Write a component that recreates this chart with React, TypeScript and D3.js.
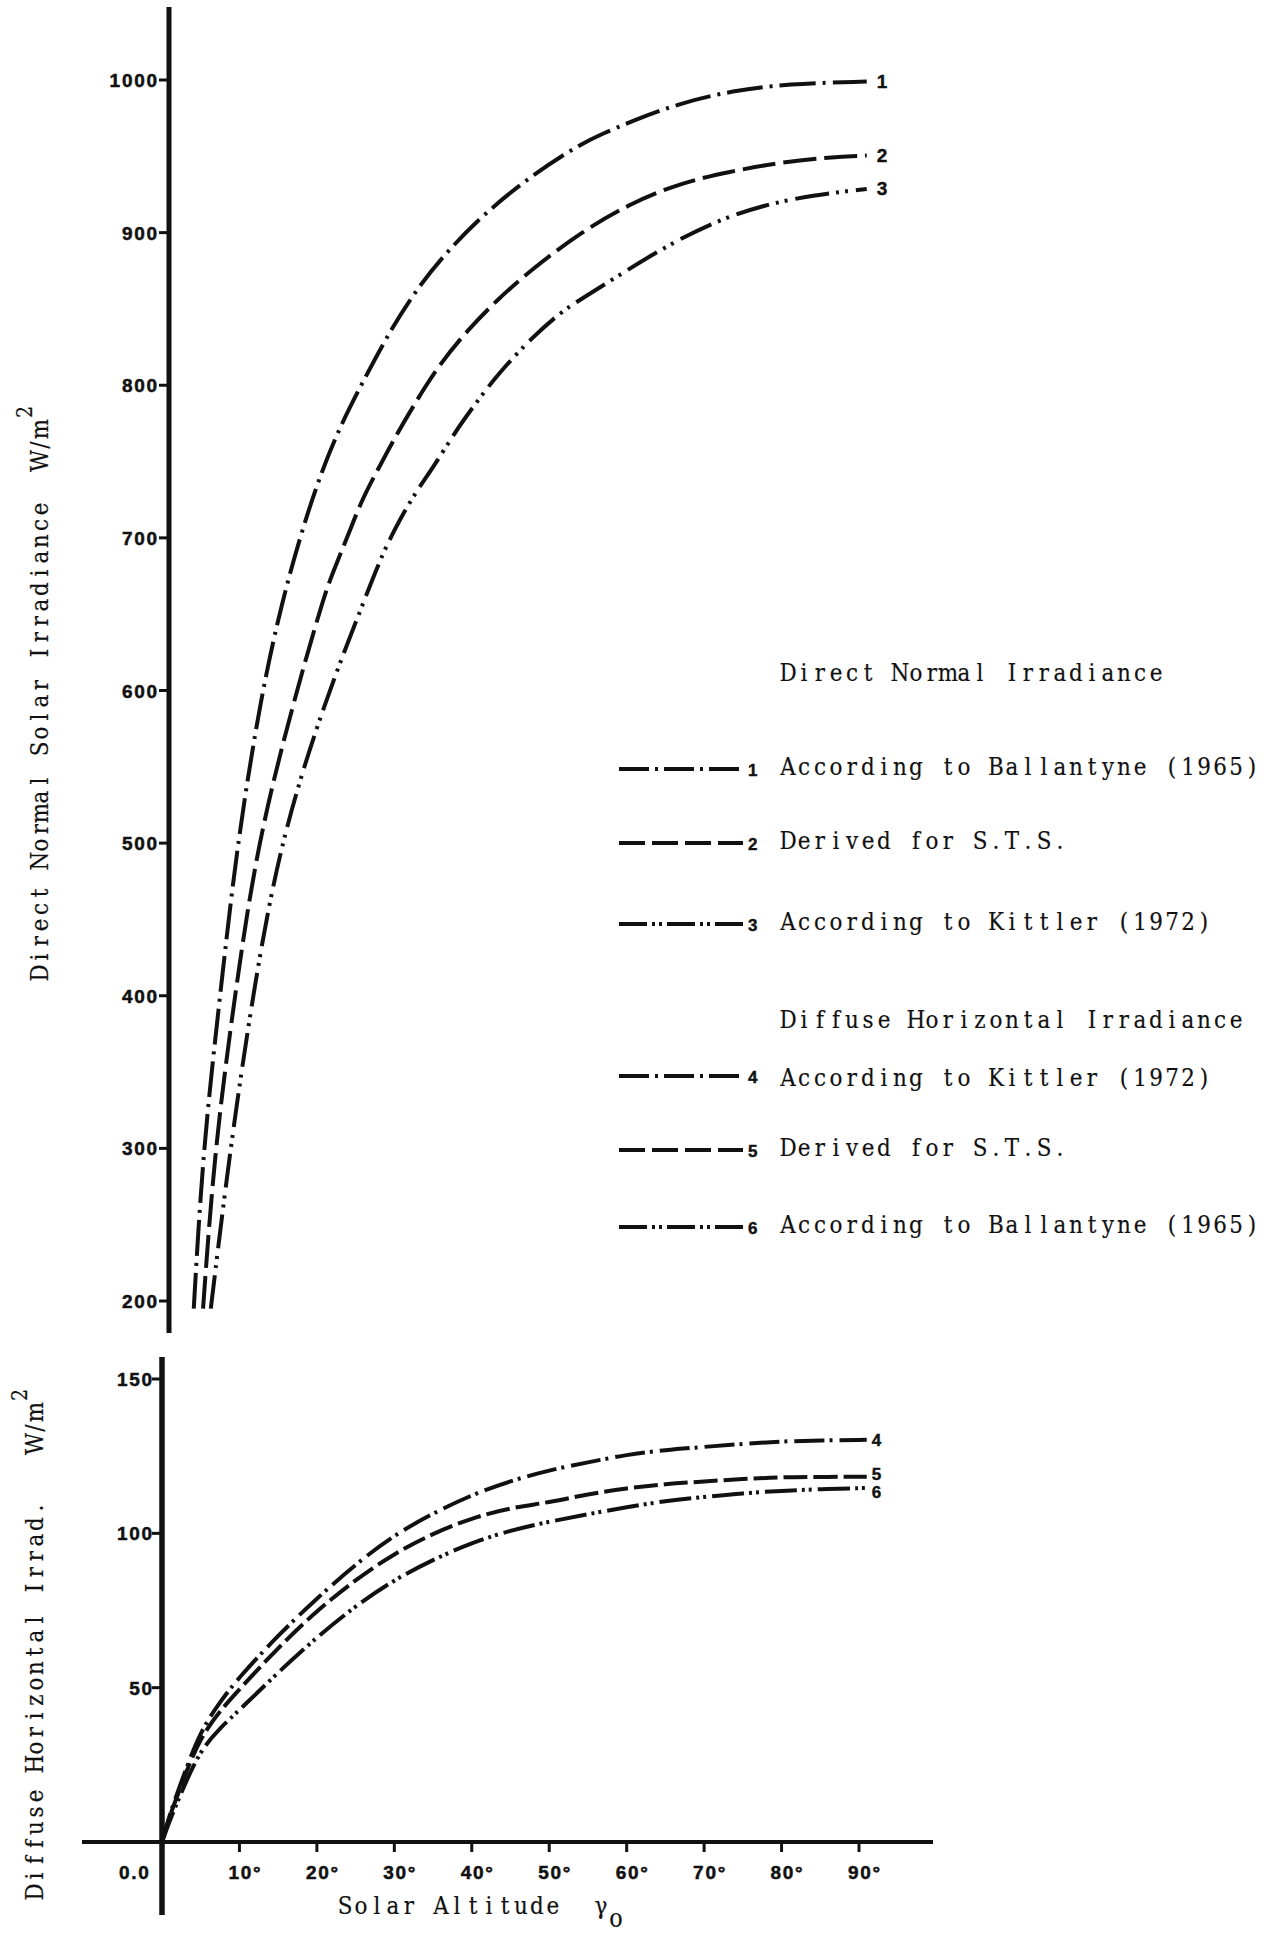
import React from "react";
import * as d3 from "d3";

// ---------- data ----------
const altitudeTicks = [10, 20, 30, 40, 50, 60, 70, 80, 90];
const directTicks = [200, 300, 400, 500, 600, 700, 800, 900, 1000];
const diffuseTicks = [50, 100, 150];

// Direct normal irradiance (W/m2) vs solar altitude (deg)
const series1Alt = [4.1, 5.3, 7.5, 9.7, 12.9, 15.6, 17.8, 20, 22.6, 26, 29.7, 33.3, 37.4, 42.2, 47.9, 54, 57, 60.4, 66.9, 73.7, 80.7, 91];
const series1Val = [195, 300, 400, 500, 600, 660, 700, 735, 769, 803, 838, 866, 891, 915, 938, 958, 965, 972.5, 985, 993, 997.5, 999];

const series2Alt = [5.3, 6.8, 9.4, 12.3, 17, 20.8, 22.1, 23.9, 25.8, 27.8, 30.1, 32.4, 35.9, 39.8, 43.3, 47.5, 54, 60.4, 66.9, 73.3, 79.8, 86.3, 91];
const series2Val = [195, 300, 400, 500, 593, 660, 678, 700, 725, 744, 766, 786, 814.5, 838, 856, 875, 900, 919, 932.5, 940, 946, 949.5, 950.5];

const series3Alt = [6.3, 8.8, 11.7, 15.2, 21, 26.2, 28.5, 30.7, 32.9, 35, 37.8, 40.2, 43.3, 47.9, 51.8, 54, 59, 64.7, 71.2, 77.6, 84, 91];
const series3Val = [195, 300, 400, 500, 593, 660, 690, 712, 731, 746, 769, 786, 807, 832, 849, 856, 872, 890, 907, 918, 924.6, 928.6];

// Diffuse horizontal irradiance (W/m2) vs solar altitude (deg)
const diffuseAlt = [0, 1, 2, 3, 5, 7.5, 10, 15, 20, 25, 30, 35, 40, 45, 50, 55, 60, 65, 70, 75, 80, 85, 91];
const series4Val = [0, 9, 16, 23, 36, 45.5, 53.5, 67, 79, 90, 99.5, 106.5, 112.5, 117, 120.5, 123, 125.5, 127, 128, 129, 129.8, 130.1, 130.3];
const series5Val = [0, 8.5, 15, 22, 34, 42.5, 49.5, 63, 75, 85, 93.5, 100, 105, 108.3, 110, 112.7, 114.6, 116, 116.8, 117.6, 118.2, 118.3, 118.3];
const series6Val = [0, 7, 13, 19, 29.8, 37, 42.7, 55, 66.4, 76.5, 85, 91.5, 97, 101, 103.8, 106.2, 108.5, 110.5, 111.8, 113, 113.8, 114.3, 114.7];

const seriesNumbers = ["1", "2", "3", "4", "5", "6"];
const legendHeaders = ["Direct Normal Irradiance", "Diffuse Horizontal Irradiance"];
const legendLabels = [
  "According to Ballantyne (1965)",
  "Derived for S.T.S.",
  "According to Kittler (1972)",
  "According to Kittler (1972)",
  "Derived for S.T.S.",
  "According to Ballantyne (1965)",
];
const topAxisTitle = "Direct Normal Solar Irradiance  W/m";
const bottomAxisTitle = "Diffuse Horizontal Irrad.   W/m";
const xAxisTitle = "Solar Altitude  γ";

// ---------- styles ----------
const INK = "#111";
const SERIF = "'DejaVu Serif', 'Liberation Serif', serif";
const SANS = "'Liberation Sans', Arial, Helvetica, sans-serif";
const curveDash = ["36 7 3 7", "33 8", "34 7 3 6 3 8", "30 5 3 7", "24 6", "32 5 3 4 3 6"];
const legendDash = ["30 6 3 6", "26 7", "28 5 3 4 3 5", "30 6 3 6", "26 7", "28 5 3 4 3 5"];
const endLabelDy = [6.5, 6.5, 6.5, 6, 3, 10];
const legendLineY = [769, 843, 924, 1076, 1150, 1227];
const legendHeaderY = [681, 1028];

const PITCH = 16;
const SX = 0.86;
const TYPE_SIZE = 25;

// typewriter-style text: every glyph centred in a fixed-pitch cell
function TypeText(props: {
  x: number;
  y: number;
  text: string;
  rotate?: boolean;
  size?: number;
  dy?: number;
}) {
  const { x, y, text, rotate, size = TYPE_SIZE, dy = 0 } = props;
  const cell = PITCH / SX;
  const xs = Array.from(text).map((_, i) => ((i + 0.5) * cell).toFixed(2)).join(" ");
  return (
    <text
      transform={`translate(${x},${y})${rotate ? " rotate(-90)" : ""} scale(${SX},1)`}
      x={xs}
      y={dy}
      textAnchor="middle"
      fontFamily={SERIF}
      fontSize={size}
      fill={INK}
      stroke={INK}
      strokeWidth={0.2}
      style={{ whiteSpace: "pre" }}
    >
      {text}
    </text>
  );
}

export default function App() {
  const W = 1278;
  const H = 1936;

  const x = d3.scaleLinear().domain([0, 90]).range([162, 859]);
  const yTop = d3.scaleLinear().domain([200, 1000]).range([1301, 80]);
  const yBot = d3.scaleLinear().domain([0, 150]).range([1842, 1379]);

  const topLine = d3
    .line<[number, number]>()
    .x((d) => x(d[0]))
    .y((d) => yTop(d[1]))
    .curve(d3.curveBasis);
  const botLine = d3
    .line<[number, number]>()
    .x((d) => x(d[0]))
    .y((d) => yBot(d[1]))
    .curve(d3.curveBasis);

  const topSeries = [
    d3.zip(series1Alt, series1Val) as [number, number][],
    d3.zip(series2Alt, series2Val) as [number, number][],
    d3.zip(series3Alt, series3Val) as [number, number][],
  ];
  const botSeries = [
    d3.zip(diffuseAlt, series4Val) as [number, number][],
    d3.zip(diffuseAlt, series5Val) as [number, number][],
    d3.zip(diffuseAlt, series6Val) as [number, number][],
  ];

  const topAxisX = 169;
  const botAxisX = x(0);
  const xAxisY = yBot(0);

  const tickFont = {
    fontFamily: SANS,
    fontWeight: 700,
    fontSize: 19,
    letterSpacing: 1.7,
    fill: INK,
    stroke: INK,
    strokeWidth: 0.5,
  } as const;
  const numFont = {
    fontFamily: SANS,
    fontWeight: 700,
    fill: INK,
    stroke: INK,
    strokeWidth: 0.4,
  } as const;

  return (
    <svg
      width={W}
      height={H}
      viewBox={`0 0 ${W} ${H}`}
      style={{ position: "absolute", left: 0, top: 0, background: "#fff" }}
    >
      <rect x={0} y={0} width={W} height={H} fill="#fff" />

      {/* ---------- top panel axis ---------- */}
      <line x1={topAxisX} y1={7} x2={topAxisX} y2={1333} stroke={INK} strokeWidth={5} />
      {directTicks.map((t) => (
        <g key={"dt" + t}>
          <line x1={topAxisX - 10} x2={topAxisX} y1={yTop(t)} y2={yTop(t)} stroke={INK} strokeWidth={3} />
          <text x={topAxisX - 12 + 1.7} y={yTop(t) + 7} textAnchor="end" {...tickFont}>
            {t}
          </text>
        </g>
      ))}

      {/* ---------- bottom panel axes ---------- */}
      <line x1={botAxisX} y1={1357} x2={botAxisX} y2={1915} stroke={INK} strokeWidth={5.5} />
      <line x1={82} y1={xAxisY} x2={933} y2={xAxisY} stroke={INK} strokeWidth={4} />
      {diffuseTicks.map((t) => (
        <g key={"ft" + t}>
          <line x1={botAxisX - 10} x2={botAxisX} y1={yBot(t)} y2={yBot(t)} stroke={INK} strokeWidth={3} />
          <text x={botAxisX - 10 + 1.7} y={yBot(t) + 7} textAnchor="end" {...tickFont}>
            {t}
          </text>
        </g>
      ))}
      {altitudeTicks.map((t) => (
        <g key={"at" + t}>
          <line x1={x(t)} x2={x(t)} y1={xAxisY} y2={xAxisY + 10} stroke={INK} strokeWidth={3} />
          <text x={x(t) - 11} y={xAxisY + 37} textAnchor="start" {...tickFont}>
            {t + "°"}
          </text>
        </g>
      ))}
      <text x={119} y={xAxisY + 37} textAnchor="start" {...tickFont}>
        0.0
      </text>

      {/* ---------- curves ---------- */}
      {topSeries.map((s, i) => (
        <path
          key={"ts" + i}
          d={topLine(s) || ""}
          fill="none"
          stroke={INK}
          strokeWidth={4}
          strokeDasharray={curveDash[i]}
        />
      ))}
      {botSeries.map((s, i) => (
        <path
          key={"bs" + i}
          d={botLine(s) || ""}
          fill="none"
          stroke={INK}
          strokeWidth={4}
          strokeDasharray={curveDash[i + 3]}
        />
      ))}

      {/* curve end numbers */}
      {topSeries.map((s, i) => {
        const last = s[s.length - 1];
        return (
          <text key={"tn" + i} x={x(last[0]) + 10} y={yTop(last[1]) + endLabelDy[i]} fontSize={19} {...numFont}>
            {seriesNumbers[i]}
          </text>
        );
      })}
      {botSeries.map((s, i) => {
        const last = s[s.length - 1];
        return (
          <text
            key={"bn" + i}
            x={x(last[0]) + 5}
            y={yBot(last[1]) + endLabelDy[i + 3]}
            fontSize={17}
            {...numFont}
          >
            {seriesNumbers[i + 3]}
          </text>
        );
      })}

      {/* ---------- axis titles ---------- */}
      <TypeText x={48} y={981} rotate text={topAxisTitle} />
      <TypeText x={48} y={981 - PITCH * topAxisTitle.length - 1} rotate text="2" size={22} dy={-16} />
      <TypeText x={43} y={1900} rotate text={bottomAxisTitle} />
      <TypeText x={43} y={1900 - PITCH * bottomAxisTitle.length - 1} rotate text="2" size={22} dy={-16} />
      <TypeText x={337} y={1914} text={xAxisTitle} />
      <TypeText x={337 + PITCH * xAxisTitle.length - 1} y={1914} text="o" size={26} dy={13} />

      {/* ---------- legend ---------- */}
      {legendHeaders.map((h, i) => (
        <TypeText key={"lh" + i} x={780} y={legendHeaderY[i]} text={h} />
      ))}
      {legendLabels.map((lab, i) => (
        <g key={"lg" + i}>
          <line
            x1={619}
            x2={743}
            y1={legendLineY[i]}
            y2={legendLineY[i]}
            stroke={INK}
            strokeWidth={4}
            strokeDasharray={legendDash[i]}
          />
          <text x={748} y={legendLineY[i] + 7} fontSize={17} {...numFont}>
            {seriesNumbers[i]}
          </text>
          <TypeText x={780} y={legendLineY[i] + (i === 3 ? 1 : -3) + 9} text={lab} />
        </g>
      ))}
    </svg>
  );
}
